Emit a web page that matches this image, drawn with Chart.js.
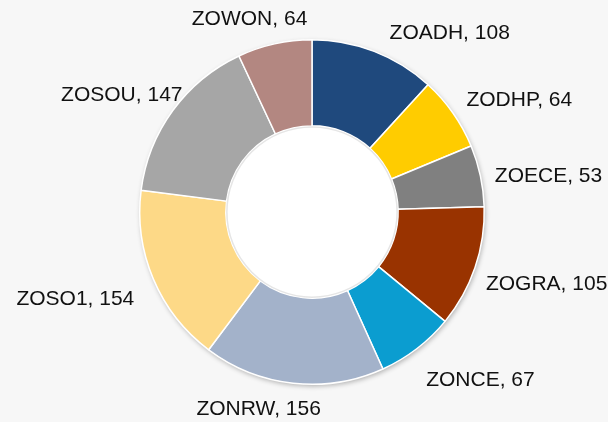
<!DOCTYPE html>
<html>
<head>
<meta charset="utf-8">
<script src="https://cdn.jsdelivr.net/npm/chart.js@4.4.0/dist/chart.umd.min.js"></script>
<style>
  html, body { margin: 0; padding: 0; background: #f7f7f7; }
  #wrap { width: 608px; height: 422px; position: relative; }
</style>
</head>
<body>
<div id="wrap"><canvas id="donut"></canvas></div>
<script>
// Regions, clockwise from 12 o'clock
const regions = ['ZOADH', 'ZODHP', 'ZOECE', 'ZOGRA', 'ZONCE', 'ZONRW', 'ZOSO1', 'ZOSOU', 'ZOWON'];
const counts = [108, 64, 53, 105, 67, 156, 154, 147, 64];
const sliceColors = ['#1f497d', '#ffcc00', '#808080', '#993300', '#0b9dd0',
                     '#a3b2ca', '#fdd987', '#a6a6a6', '#b38781'];

// soft shadow behind the ring + white hole
const ringShadow = {
    id: 'ringShadow',
    beforeDatasetsDraw(chart) {
        const arc = chart.getDatasetMeta(0).data[0];
        if (!arc) return;
        const {x, y, outerRadius} = arc.getProps(['x', 'y', 'outerRadius'], true);
        const ctx = chart.ctx;
        ctx.save();
        ctx.shadowColor = 'rgba(0,0,0,0.3)';
        ctx.shadowBlur = 5;
        ctx.shadowOffsetX = 1;
        ctx.shadowOffsetY = 2;
        ctx.fillStyle = '#ffffff';
        ctx.beginPath();
        ctx.arc(x, y, outerRadius, 0, Math.PI * 2);
        ctx.fill();
        ctx.restore();
    },
    afterDatasetsDraw(chart) {
        // faint grey rim round the hole
        const arc = chart.getDatasetMeta(0).data[0];
        if (!arc) return;
        const {x, y, innerRadius} = arc.getProps(['x', 'y', 'innerRadius'], true);
        const ctx = chart.ctx;
        ctx.save();
        ctx.strokeStyle = 'rgba(0,0,0,0.10)';
        ctx.lineWidth = 1.5;
        ctx.beginPath();
        ctx.arc(x, y, innerRadius - 1, 0, Math.PI * 2);
        ctx.stroke();
        ctx.restore();
    }
};

// "NAME, value" labels just outside each slice (nudged like the hand-placed originals)
const outsideLabels = {
    id: 'outsideLabels',
    afterDatasetsDraw(chart, args, opts) {
        const ctx = chart.ctx;
        const meta = chart.getDatasetMeta(0);
        ctx.save();
        ctx.font = '21px "Liberation Sans", Arial, sans-serif';
        ctx.fillStyle = '#111';
        ctx.textAlign = 'center';
        ctx.textBaseline = 'middle';
        meta.data.forEach((arc, i) => {
            const p = arc.getProps(['x', 'y', 'startAngle', 'endAngle', 'outerRadius'], true);
            const mid = (p.startAngle + p.endAngle) / 2;
            const text = regions[i] + ', ' + counts[i];
            const w = ctx.measureText(text).width;
            const h = 20;
            const ax = p.x + Math.cos(mid) * (p.outerRadius + 16);
            const ay = p.y + Math.sin(mid) * (p.outerRadius + 16);
            const [nx, ny] = opts.nudge[i] || [0, 0];
            ctx.fillText(text, ax + Math.cos(mid) * w / 2 + nx, ay + Math.sin(mid) * h / 2 + ny);
        });
        ctx.restore();
    }
};

const ctx = document.getElementById('donut').getContext('2d');
const donutChart = new Chart(ctx, {
    type: 'doughnut',
    data: {
        labels: regions,
        datasets: [{
            data: counts,
            backgroundColor: sliceColors,
            borderColor: '#ffffff',
            borderWidth: 1.5
        }]
    },
    options: {
        responsive: true,
        maintainAspectRatio: false,
        animation: false,
        cutout: '50%',
        layout: { padding: { left: 139, right: 123, top: 38, bottom: 36 } },
        plugins: {
            legend: { display: false },
            tooltip: { enabled: false },
            outsideLabels: {
                nudge: [[48, 6], [10, 2], [0, 6], [-1, 8], [21, 11], [-26, 0], [-9, 10], [11, 0], [-9, 1]]
            }
        }
    },
    plugins: [ringShadow, outsideLabels]
});
</script>
</body>
</html>
